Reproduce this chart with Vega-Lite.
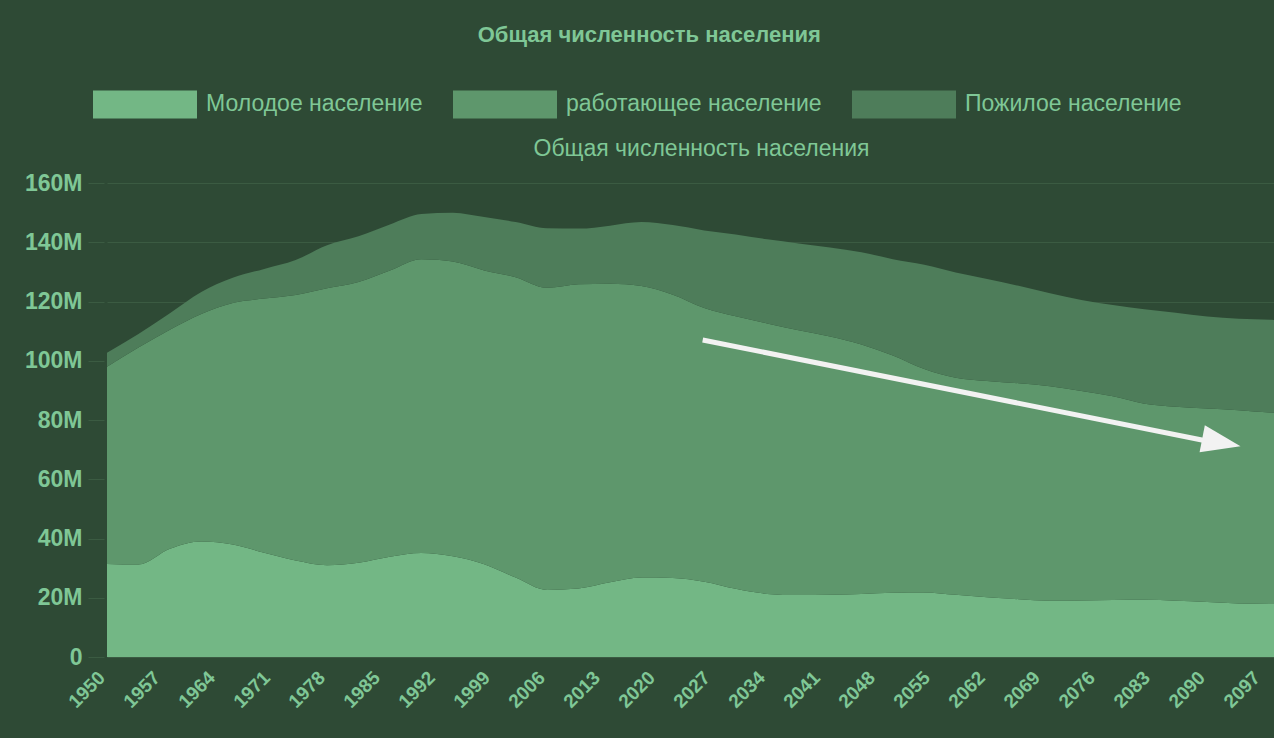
{
  "$schema": "https://vega.github.io/schema/vega-lite/v6.json",
  "width": 1167,
  "height": 474,
  "autosize": {"type": "none"},
  "padding": {"left": 107, "top": 183, "right": 0, "bottom": 81},
  "background": "#2e4a35",
  "config": {"view": {"stroke": null}, "font": "Liberation Sans"},
  "title": {
    "text": "Общая численность населения",
    "frame": "bounds",
    "anchor": "middle",
    "fontSize": 22,
    "fontWeight": "bold",
    "color": "#7fc796",
    "offset": 5
  },
  "datasets": {
    "pop": [
      {"year": 1950, "Молодое население": 31.4, "работающее население": 66.6, "Пожилое население": 4.7},
      {"year": 1954, "Молодое население": 31.2, "работающее население": 73.3, "Пожилое население": 4.5},
      {"year": 1958, "Молодое население": 36.5, "работающее население": 74.0, "Пожилое население": 5.5},
      {"year": 1962, "Молодое население": 39.0, "работающее население": 76.8, "Пожилое население": 7.4},
      {"year": 1966, "Молодое население": 38.0, "работающее население": 81.5, "Пожилое население": 8.5},
      {"year": 1970, "Молодое население": 35.2, "работающее население": 85.8, "Пожилое население": 10.0},
      {"year": 1974, "Молодое население": 32.6, "работающее население": 89.6, "Пожилое население": 11.8},
      {"year": 1978, "Молодое население": 31.0, "работающее население": 93.5, "Пожилое население": 14.5},
      {"year": 1982, "Молодое население": 31.8, "работающее население": 94.8, "Пожилое население": 15.4},
      {"year": 1986, "Молодое население": 33.8, "работающее население": 96.7, "Пожилое население": 15.5},
      {"year": 1990, "Молодое население": 35.1, "работающее население": 99.2, "Пожилое население": 15.2},
      {"year": 1994, "Молодое население": 34.0, "работающее население": 99.5, "Пожилое население": 16.5},
      {"year": 1998, "Молодое население": 31.3, "работающее население": 99.2, "Пожилое население": 18.0},
      {"year": 2002, "Молодое население": 26.8, "работающее население": 101.4, "Пожилое население": 18.6},
      {"year": 2006, "Молодое население": 22.6, "работающее население": 102.0, "Пожилое население": 20.1},
      {"year": 2010, "Молодое население": 23.1, "работающее население": 102.7, "Пожилое население": 18.8},
      {"year": 2014, "Молодое население": 25.2, "работающее население": 100.8, "Пожилое население": 19.6},
      {"year": 2018, "Молодое население": 26.8, "работающее население": 98.4, "Пожилое население": 21.6},
      {"year": 2022, "Молодое население": 26.7, "работающее население": 95.6, "Пожилое население": 23.5},
      {"year": 2026, "Молодое население": 25.4, "работающее население": 92.4, "Пожилое население": 26.2},
      {"year": 2030, "Молодое население": 23.0, "работающее население": 92.0, "Пожилое население": 27.6},
      {"year": 2034, "Молодое население": 21.3, "работающее население": 91.3, "Пожилое население": 28.4},
      {"year": 2038, "Молодое население": 20.9, "работающее население": 89.4, "Пожилое население": 29.3},
      {"year": 2042, "Молодое население": 21.0, "работающее население": 87.2, "Пожилое население": 30.0},
      {"year": 2046, "Молодое население": 21.3, "работающее население": 84.2, "Пожилое население": 31.1},
      {"year": 2050, "Молодое население": 21.7, "работающее население": 80.1, "Пожилое население": 32.5},
      {"year": 2054, "Молодое население": 21.8, "работающее население": 75.4, "Пожилое население": 35.2},
      {"year": 2058, "Молодое население": 21.0, "работающее население": 73.3, "Пожилое население": 35.5},
      {"year": 2062, "Молодое население": 20.2, "работающее население": 73.0, "Пожилое население": 34.4},
      {"year": 2066, "Молодое население": 19.5, "работающее население": 72.9, "Пожилое население": 32.9},
      {"year": 2070, "Молодое население": 19.0, "работающее население": 72.4, "Пожилое население": 31.4},
      {"year": 2074, "Молодое население": 19.1, "работающее население": 70.7, "Пожилое население": 30.7},
      {"year": 2078, "Молодое население": 19.2, "работающее население": 68.8, "Пожилое население": 30.8},
      {"year": 2082, "Молодое население": 19.3, "работающее население": 66.2, "Пожилое население": 31.9},
      {"year": 2086, "Молодое население": 19.0, "работающее население": 65.5, "Пожилое население": 31.7},
      {"year": 2090, "Молодое население": 18.6, "работающее население": 65.3, "Пожилое население": 31.0},
      {"year": 2094, "Молодое население": 18.1, "работающее население": 65.2, "Пожилое население": 30.9},
      {"year": 2098, "Молодое население": 17.9, "работающее население": 64.6, "Пожилое население": 31.3},
      {"year": 2100, "Молодое население": 17.8, "работающее население": 64.4, "Пожилое население": 31.3}
    ],
    "arrow": [
      {"x": 2025.8, "y": 107.0, "x2": 2089.8, "y2": 73.0, "hx": 2091.8, "hy": 72.4}
    ]
  },
  "layer": [
    {
      "data": {"name": "pop"},
      "transform": [
        {"fold": ["Молодое население", "работающее население", "Пожилое население"], "as": ["group", "value"]},
        {"window": [{"op": "row_number", "as": "k"}], "groupby": ["year"]}
      ],
      "mark": {"type": "area", "interpolate": "monotone", "clip": true, "opacity": 1},
      "encoding": {
        "x": {
          "field": "year",
          "type": "quantitative",
          "scale": {"domain": [1950, 2098.5], "nice": false, "zero": false},
          "axis": {
            "values": [1950, 1957, 1964, 1971, 1978, 1985, 1992, 1999, 2006, 2013, 2020, 2027, 2034, 2041, 2048, 2055, 2062, 2069, 2076, 2083, 2090, 2097],
            "format": "d",
            "labelAngle": -45,
            "labelFontSize": 19,
            "labelFontWeight": "bold",
            "labelColor": "#7fc796",
            "grid": false,
            "ticks": false,
            "domain": false,
            "title": null,
            "labelPadding": 11,
            "labelOffset": -12
          }
        },
        "y": {
          "field": "value",
          "type": "quantitative",
          "stack": "zero",
          "title": null,
          "scale": {"domain": [0, 160], "nice": false},
          "axis": {
            "values": [0, 20, 40, 60, 80, 100, 120, 140, 160],
            "labelExpr": "datum.value == 0 ? '0' : datum.value + 'M'",
            "labelFontSize": 23,
            "labelFontWeight": "bold",
            "labelColor": "#7fc796",
            "gridColor": "#3b5b42",
            "tickColor": "#3b5b42",
            "tickSize": 16,
            "domain": false,
            "offset": 3,
            "labelPadding": 6,
            "title": null
          }
        },
        "order": {"field": "k", "type": "quantitative"},
        "color": {
          "field": "group",
          "type": "nominal",
          "sort": ["Молодое население", "работающее население", "Пожилое население"],
          "scale": {
            "domain": ["Молодое население", "работающее население", "Пожилое население"],
            "range": ["#73b785", "#5e976c", "#4e7d5a"]
          },
          "legend": {
            "orient": "none",
            "legendX": -14,
            "legendY": -131,
            "direction": "horizontal",
            "title": null,
            "symbolType": "M-1,-0.27H1V0.27H-1Z",
            "symbolSize": 10816,
            "symbolOpacity": 1,
            "symbolStrokeWidth": 0,
            "labelFontSize": 23,
            "labelLimit": 0,
            "labelColor": "#7fc796",
            "labelOffset": 9,
            "columnPadding": 30,
            "padding": 0
          }
        }
      }
    },
    {
      "data": {"name": "arrow"},
      "mark": {"type": "rule", "color": "#f2f2f2", "strokeWidth": 5},
      "encoding": {
        "x": {
          "field": "x",
          "type": "quantitative",
          "scale": {"domain": [1950, 2098.5], "nice": false, "zero": false},
          "axis": {
            "orient": "top",
            "title": "Общая численность населения",
            "labels": false,
            "ticks": false,
            "domain": false,
            "grid": false,
            "titleFontSize": 23,
            "titleFontWeight": "normal",
            "titleColor": "#7fc796",
            "titlePadding": 23,
            "titleX": 594
          }
        },
        "x2": {"field": "x2"},
        "y": {"field": "y", "type": "quantitative", "title": null},
        "y2": {"field": "y2"}
      }
    },
    {
      "data": {"name": "arrow"},
      "mark": {"type": "point", "shape": "M-1,-0.7L1,0L-1,0.7Z", "size": 1521, "filled": true, "color": "#f2f2f2", "opacity": 1, "angle": 11.1},
      "encoding": {
        "x": {"field": "hx", "type": "quantitative", "axis": null},
        "y": {"field": "hy", "type": "quantitative", "title": null}
      }
    }
  ],
  "resolve": {"axis": {"x": "independent"}}
}
